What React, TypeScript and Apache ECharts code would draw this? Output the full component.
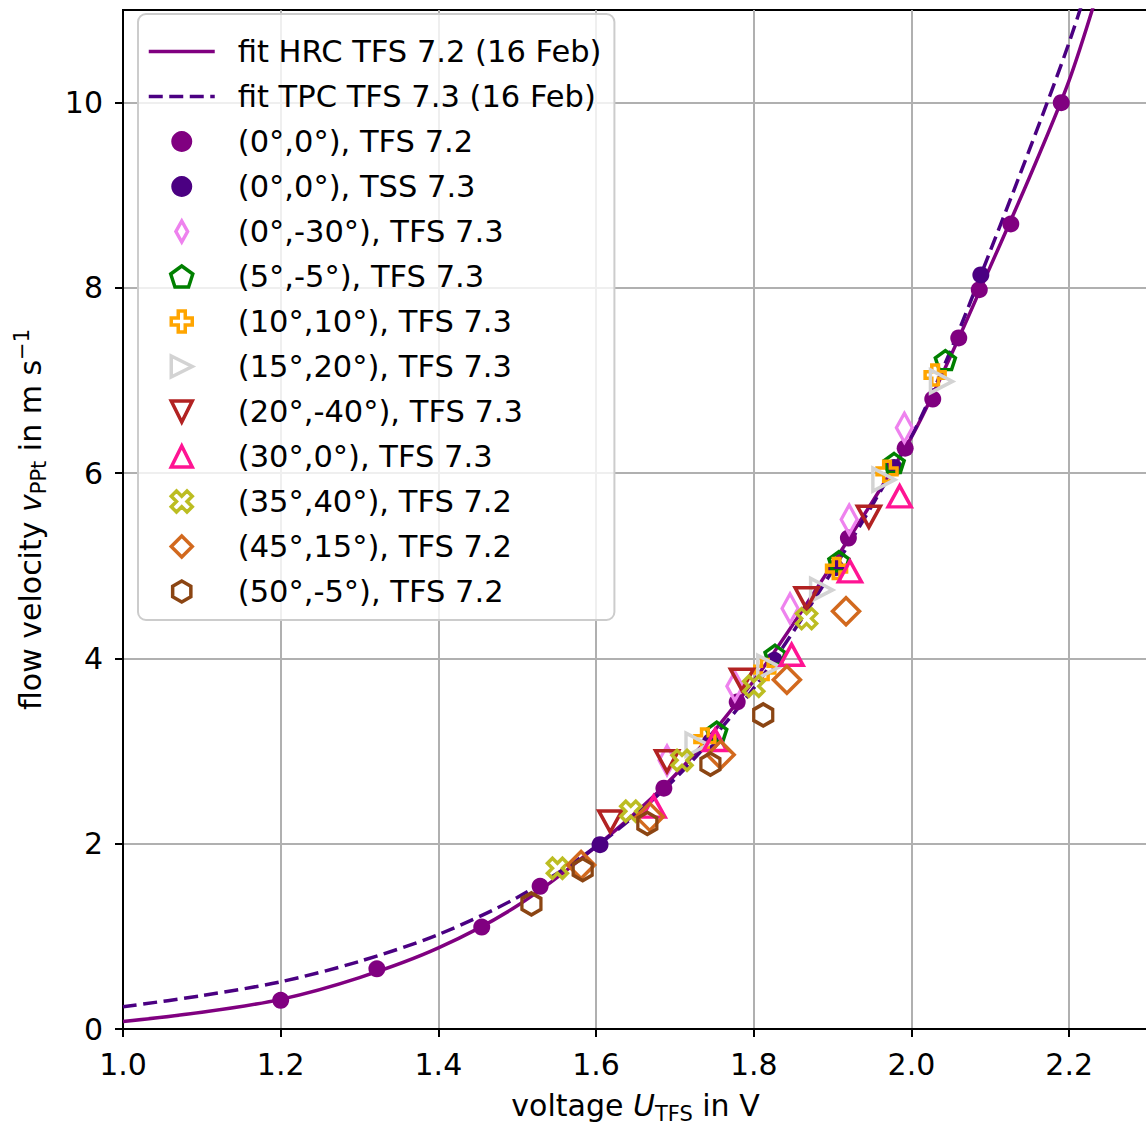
import React, { useEffect, useRef } from "react";
import * as echarts from "echarts";

const FONT = "DejaVu Sans";

// Fit curves
const fitVoltage = [1.0, 1.1, 1.2, 1.3, 1.4, 1.5, 1.6, 1.7, 1.8, 1.9, 2.0, 2.05, 2.1, 2.15, 2.2, 2.24];
const fitHRC = [0.08, 0.18, 0.32, 0.555, 0.875, 1.33, 1.97, 2.74, 3.76, 5.02, 6.39, 7.27, 8.23, 9.2, 10.24, 11.3];
const fitTPC = [0.24, 0.36, 0.51, 0.73, 1.02, 1.42, 1.97, 2.7, 3.68, 4.95, 6.4, 7.33, 8.4, 9.5, 10.65, 11.7];

// Measurements
const tfs72ZeroU = [1.2, 1.322, 1.455, 1.529, 1.686, 1.779, 1.92, 1.992, 2.027, 2.06, 2.086, 2.126, 2.19];
const tfs72ZeroV = [0.31, 0.65, 1.1, 1.54, 2.6, 3.53, 5.3, 6.27, 6.8, 7.46, 7.98, 8.69, 10.0];
const tss73ZeroU = [1.605, 1.745, 1.826, 1.904, 1.978, 2.088];
const tss73ZeroV = [1.99, 3.1, 3.98, 4.98, 6.06, 8.14];
const a0m30U = [1.69, 1.776, 1.846, 1.921, 1.991];
const a0m30V = [2.9, 3.7, 4.54, 5.5, 6.49];
const a5m5U = [1.753, 1.827, 1.908, 1.978, 2.043];
const a5m5V = [3.21, 4.04, 5.05, 6.11, 7.22];
const a10p10U = [1.738, 1.814, 1.905, 1.969, 2.03];
const a10p10V = [3.13, 3.88, 4.97, 6.02, 7.06];
const a15p20U = [1.728, 1.819, 1.886, 1.965, 2.038];
const a15p20V = [3.07, 3.91, 4.74, 5.93, 6.99];
const a20m40U = [1.618, 1.69, 1.785, 1.867, 1.946];
const a20m40V = [2.24, 2.89, 3.77, 4.65, 5.53];
const a30p0U = [1.673, 1.751, 1.848, 1.922, 1.985];
const a30p0V = [2.4, 3.12, 4.04, 4.94, 5.75];
const a35p40U = [1.551, 1.644, 1.709, 1.8, 1.867];
const a35p40V = [1.735, 2.35, 2.9, 3.7, 4.43];
const a45p15U = [1.581, 1.668, 1.758, 1.842, 1.917];
const a45p15V = [1.77, 2.29, 2.96, 3.77, 4.51];
const a50m5U = [1.518, 1.583, 1.665, 1.745, 1.812];
const a50m5V = [1.35, 1.72, 2.22, 2.86, 3.39];

const fitNames = ["fit HRC TFS 7.2 (16 Feb)", "fit TPC TFS 7.3 (16 Feb)"];

const P = {
  thinDiamond: "path://M1,0 L2,1.8 L1,3.6 L0,1.8 Z",
  pentagon: "path://M0,-1 L0.951,-0.309 L0.588,0.809 L-0.588,0.809 L-0.951,-0.309 Z",
  plus: "path://M1,0 L2,0 L2,1 L3,1 L3,2 L2,2 L2,3 L1,3 L1,2 L0,2 L0,1 L1,1 Z",
  triRight: "path://M0,0 L2,1 L0,2 Z",
  triDown: "path://M0,0 L2,0 L1,2 Z",
  triUp: "path://M1,0 L2,2 L0,2 Z",
  xFilled: "path://M1,-2 L2,-1 L1,0 L2,1 L1,2 L0,1 L-1,2 L-2,1 L-1,0 L-2,-1 L-1,-2 L0,-1 Z",
  diamond: "path://M1,0 L2,1 L1,2 L0,1 Z",
  hexagon: "path://M0,-1 L0.866,-0.5 L0.866,0.5 L0,1 L-0.866,0.5 L-0.866,-0.5 Z",
};

type Def = { name: string; u: number[]; v: number[]; symbol: string; size: number[]; color: string; hollow: boolean };

const defs: Def[] = [
  { name: "(0°,0°), TFS 7.2", u: tfs72ZeroU, v: tfs72ZeroV, symbol: "circle", size: [17, 17], color: "#800080", hollow: false },
  { name: "(0°,0°), TSS 7.3", u: tss73ZeroU, v: tss73ZeroV, symbol: "circle", size: [17, 17], color: "#4B0082", hollow: false },
  { name: "(0°,-30°), TFS 7.3", u: a0m30U, v: a0m30V, symbol: P.thinDiamond, size: [16, 29], color: "#EE82EE", hollow: true },
  { name: "(5°,-5°), TFS 7.3", u: a5m5U, v: a5m5V, symbol: P.pentagon, size: [20, 19], color: "#008000", hollow: true },
  { name: "(10°,10°), TFS 7.3", u: a10p10U, v: a10p10V, symbol: P.plus, size: [20, 20], color: "#FFA500", hollow: true },
  { name: "(15°,20°), TFS 7.3", u: a15p20U, v: a15p20V, symbol: P.triRight, size: [22, 23], color: "#D3D3D3", hollow: true },
  { name: "(20°,-40°), TFS 7.3", u: a20m40U, v: a20m40V, symbol: P.triDown, size: [23, 21], color: "#B22222", hollow: true },
  { name: "(30°,0°), TFS 7.3", u: a30p0U, v: a30p0V, symbol: P.triUp, size: [23, 21], color: "#FF1493", hollow: true },
  { name: "(35°,40°), TFS 7.2", u: a35p40U, v: a35p40V, symbol: P.xFilled, size: [20, 20], color: "#BCBD22", hollow: true },
  { name: "(45°,15°), TFS 7.2", u: a45p15U, v: a45p15V, symbol: P.diamond, size: [27, 27], color: "#D2691E", hollow: true },
  { name: "(50°,-5°), TFS 7.2", u: a50m5U, v: a50m5V, symbol: P.hexagon, size: [19, 22], color: "#8B4513", hollow: true },
];

const pairs = (xs: number[], ys: number[]) => xs.map((x, i) => [x, ys[i]]);

const STROKE = 3.5;
const LINE_W = 3.5;
const textBase = { fontFamily: FONT, color: "#000", fontSize: 30 };
const richName = {
  n: { fontFamily: FONT, fontSize: 30, color: "#000", lineHeight: 38 },
  i: { fontFamily: FONT, fontSize: 30, color: "#000", fontStyle: "italic", lineHeight: 38 },
  s: { fontFamily: FONT, fontSize: 21, color: "#000", lineHeight: 21, verticalAlign: "bottom" },
  p: { fontFamily: FONT, fontSize: 21, color: "#000", lineHeight: 21, verticalAlign: "top" },
};

export default function App() {
  const ref = useRef<HTMLDivElement>(null);
  useEffect(() => {
    const chart = echarts.init(ref.current!, null, { renderer: "svg" });
    const scatterSeries = defs.map((d) => ({
      type: "scatter",
      name: d.name,
      data: pairs(d.u, d.v),
      symbol: d.symbol,
      symbolSize: d.size,
      itemStyle: d.hollow
        ? { color: "rgba(255,255,255,0)", borderColor: d.color, borderWidth: STROKE, borderJoin: "miter", opacity: 1 }
        : { color: d.color, borderWidth: 0, opacity: 1 },
      z: 3,
    }));
    chart.setOption({
      animation: false,
      backgroundColor: "#fff",
      textStyle: textBase,
      grid: {
        left: 123,
        top: 10,
        width: 1025,
        height: 1019,
        outerBoundsMode: "none",
        containLabel: false,
        show: true,
        borderColor: "#000",
        borderWidth: 2,
        backgroundColor: "transparent",
      },
      xAxis: {
        type: "value",
        min: 1.0,
        max: 2.3,
        interval: 0.2,
        name: "{n|voltage }{i|U}{s|TFS}{n| in V}",
        nameLocation: "middle",
        nameGap: 57,
        nameTextStyle: { ...textBase, rich: richName },
        axisLine: { show: true, onZero: false, lineStyle: { color: "#000", width: 2 } },
        axisTick: { show: true, length: 8, lineStyle: { color: "#000", width: 2 } },
        axisLabel: {
          ...textBase,
          margin: 20,
          showMaxLabel: false,
          formatter: (v: number) => v.toFixed(1),
        },
        splitLine: { show: true, showMaxLine: false, lineStyle: { color: "#b0b0b0", width: 2 } },
      },
      yAxis: {
        type: "value",
        min: 0,
        max: 11,
        interval: 2,
        name: "{n|flow velocity }{i|v}{s|PPt}{n| in m s}{p|−1}",
        nameLocation: "middle",
        nameGap: 74,
        nameTextStyle: { ...textBase, rich: richName },
        axisLine: { show: true, onZero: false, lineStyle: { color: "#000", width: 2 } },
        axisTick: { show: true, length: 8, lineStyle: { color: "#000", width: 2 } },
        axisLabel: {
          ...textBase,
          margin: 20,
          showMaxLabel: false,
          formatter: (v: number) => String(Math.round(v)),
        },
        splitLine: { show: true, showMaxLine: false, showMinLine: false, lineStyle: { color: "#b0b0b0", width: 2 } },
      },
      legend: {
        orient: "vertical",
        left: 138,
        top: 14,
        padding: [22, 13, 13, 9],
        itemWidth: 66,
        itemHeight: 21,
        itemGap: 14,
        backgroundColor: "rgba(255,255,255,0.8)",
        borderColor: "#cccccc",
        borderWidth: 2,
        borderRadius: 8,
        textStyle: { ...textBase, fontSize: 30.5, padding: [0, 0, 0, 18] },
        lineStyle: { width: LINE_W },
        selectedMode: false,
        data: [
          ...fitNames.map((n) => ({
            name: n,
            itemStyle: { color: "rgba(0,0,0,0)", borderWidth: 0, opacity: 0 },
            lineStyle: { width: LINE_W },
          })),
          ...defs.map((d) => ({
            name: d.name,
            itemStyle: d.hollow
              ? { color: "rgba(255,255,255,0)", borderColor: d.color, borderWidth: STROKE }
              : { color: d.color, borderWidth: 0 },
          })),
        ],
      },
      series: [
        {
          type: "line",
          name: fitNames[0],
          data: pairs(fitVoltage, fitHRC),
          smooth: 0.3,
          symbol: "none",
          showSymbol: false,
          clip: true,
          lineStyle: { color: "#800080", width: LINE_W },
          itemStyle: { color: "#800080" },
          z: 2,
        },
        {
          type: "line",
          name: fitNames[1],
          data: pairs(fitVoltage, fitTPC),
          smooth: 0.3,
          symbol: "none",
          showSymbol: false,
          clip: true,
          lineStyle: { color: "#4B0082", width: LINE_W, type: [14, 6.5] },
          itemStyle: { color: "#4B0082" },
          z: 2,
        },
        ...scatterSeries,
      ],
    });
    return () => chart.dispose();
  }, []);
  return (
    <div
      ref={ref}
      style={{ position: "absolute", left: 0, top: 0, width: 1146, height: 1126 }}
    />
  );
}
